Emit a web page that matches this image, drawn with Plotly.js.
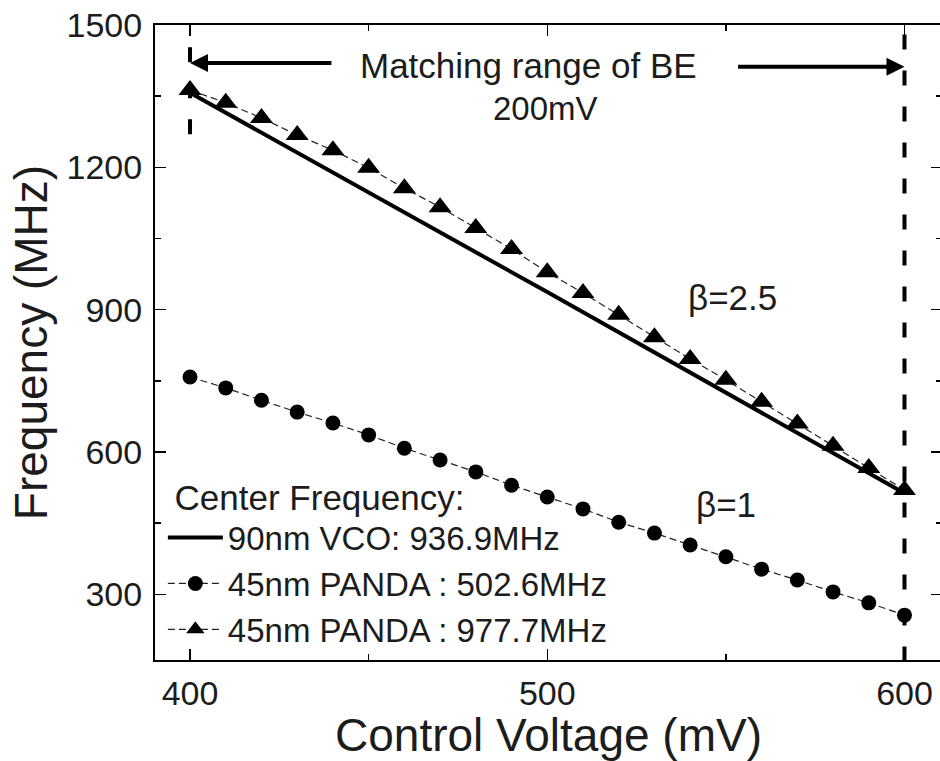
<!DOCTYPE html>
<html>
<head>
<meta charset="utf-8">
<script src="https://cdn.plot.ly/plotly-3.0.1.min.js"></script>
<style>
  html, body { margin: 0; padding: 0; overflow: hidden; background: #fff; }
  #chart { width: 944px; height: 761px; }
</style>
</head>
<body>
<div id="chart"></div>
<script>
// ---- data ----
const voltage = [400, 410, 420, 430, 440, 450, 460, 470, 480, 490, 500,
                 510, 520, 530, 540, 550, 560, 570, 580, 590, 600];
const pandaHighFreq = [1363, 1336, 1304, 1268, 1236, 1199, 1156, 1116, 1072, 1028, 979,
                       935, 889, 842, 796, 752, 706, 660, 613, 566, 520];
const pandaLowFreq = [758, 735, 709, 684, 661, 636, 608, 583, 558, 530, 505,
                      480, 452, 429, 404, 379, 353, 330, 305, 282, 256];
const vcoVoltage = [400, 500, 600];
const vcoFreq = [1357, 937, 513];

const seriesNames = ['90nm VCO: 936.9MHz', '45nm PANDA : 502.6MHz', '45nm PANDA : 977.7MHz'];
const legendTitle = 'Center Frequency:';
const xTickVals = [400, 500, 600];
const yTickVals = [300, 600, 900, 1200, 1500];

const rangeStart = 400, rangeEnd = 600;
const rangeLabel = 'Matching range of BE';
const rangeWidthLabel = '200mV';
const betaLabels = ['β=2.5', 'β=1'];

const FONT = '"Liberation Sans", Arial, sans-serif';
const INK = '#1c1c1c';

const traces = [
  {
    x: vcoVoltage, y: vcoFreq, name: seriesNames[0],
    mode: 'lines', line: { color: '#000', width: 4 }
  },
  {
    x: voltage, y: pandaLowFreq, name: seriesNames[1],
    mode: 'lines+markers',
    line: { color: '#222', width: 1.2, dash: '7px,4px' },
    marker: { symbol: 'circle', size: 15, color: '#000' }
  },
  {
    x: voltage, y: pandaHighFreq, name: seriesNames[2],
    mode: 'lines+markers',
    line: { color: '#222', width: 1.2, dash: '7px,4px' },
    marker: { symbol: 'triangle-up', size: 20, color: '#000' }
  }
];

const layout = {
  width: 944, height: 761,
  margin: { l: 155, r: 2, t: 25, b: 101 },
  paper_bgcolor: '#fff', plot_bgcolor: '#fff',
  font: { family: FONT, color: INK },
  showlegend: true,
  legend: {
    x: 0.01, y: 0.003, xanchor: 'left', yanchor: 'bottom',
    bgcolor: 'rgba(0,0,0,0)', borderwidth: 0,
    font: { family: FONT, size: 33, color: INK },
    title: { text: '&nbsp;' + legendTitle, font: { family: FONT, size: 35, color: INK } },
    itemwidth: 55, tracegroupgap: 0
  },
  xaxis: {
    range: [390.2, 610.5],
    tickvals: xTickVals, ticks: 'inside', ticklen: 11, tickwidth: 1.5, tickcolor: '#000',
    minor: { dtick: 50, tick0: 400, ticks: 'inside', ticklen: 6, tickwidth: 1.5, tickcolor: '#000' },
    showline: true, linecolor: '#000', linewidth: 2, mirror: 'allticks',
    showgrid: false, zeroline: false,
    tickfont: { family: FONT, size: 34, color: INK },
    ticklabelstandoff: 2,
    title: { text: 'Control Voltage (mV)', font: { family: FONT, size: 46, color: INK }, standoff: 6 }
  },
  yaxis: {
    range: [161.5, 1500],
    tickvals: yTickVals, ticks: 'inside', ticklen: 11, tickwidth: 1.5, tickcolor: '#000',
    minor: { dtick: 150, tick0: 300, ticks: 'inside', ticklen: 6, tickwidth: 1.5, tickcolor: '#000' },
    showline: true, linecolor: '#000', linewidth: 2, mirror: 'allticks',
    showgrid: false, zeroline: false,
    tickfont: { family: FONT, size: 34, color: INK },
    ticklabelstandoff: 4,
    title: { text: 'Frequency (MHz)', font: { family: FONT, size: 46, color: INK }, standoff: 4 }
  },
  shapes: [
    { type: 'line', xref: 'x', yref: 'y', x0: rangeStart, x1: rangeStart, y0: 1453, y1: 1268,
      line: { color: '#000', width: 4, dash: '15px,21px' } },
    { type: 'line', xref: 'x', yref: 'y', x0: rangeEnd, x1: rangeEnd, y0: 1480, y1: 161.5,
      line: { color: '#000', width: 4, dash: '15px,21px' } }
  ],
  annotations: [
    { x: rangeStart, y: 1420, ax: 440, ay: 1420, axref: 'x', ayref: 'y', xref: 'x', yref: 'y',
      text: '', showarrow: true, arrowhead: 2, arrowsize: 0.9, arrowwidth: 4, arrowcolor: '#000', standoff: 0 },
    { x: rangeEnd, y: 1412, ax: 553, ay: 1412, axref: 'x', ayref: 'y', xref: 'x', yref: 'y',
      text: '', showarrow: true, arrowhead: 2, arrowsize: 0.9, arrowwidth: 4, arrowcolor: '#000', standoff: 0 },
    { x: 494.8, y: 1414, xref: 'x', yref: 'y', text: rangeLabel, showarrow: false,
      font: { family: FONT, size: 35, color: INK } },
    { x: 499.6, y: 1325, xref: 'x', yref: 'y', text: rangeWidthLabel, showarrow: false,
      font: { family: FONT, size: 33, color: INK } },
    { x: 551.9, y: 926, xref: 'x', yref: 'y', text: betaLabels[0], showarrow: false,
      font: { family: FONT, size: 35, color: INK } },
    { x: 550.1, y: 490, xref: 'x', yref: 'y', text: betaLabels[1], showarrow: false,
      font: { family: FONT, size: 35, color: INK } }
  ]
};

Plotly.newPlot('chart', traces, layout, { displayModeBar: false, staticPlot: true });
</script>
</body>
</html>
